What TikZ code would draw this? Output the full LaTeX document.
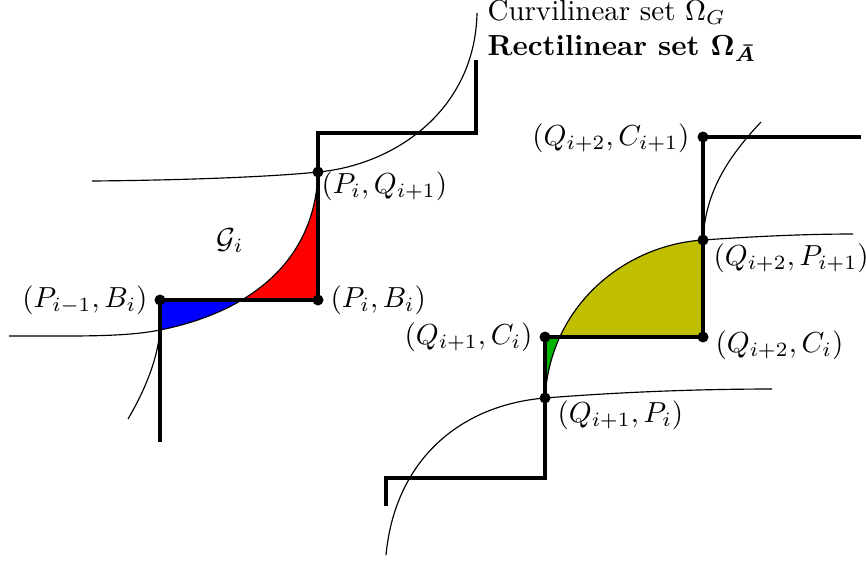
\documentclass[tikz,border=0pt]{standalone}
\usepackage{amsmath,amssymb}
\usepackage{tikz}
\usepackage{xcolor}
\definecolor{stepgreen}{RGB}{0,179,0}
\definecolor{stepolive}{RGB}{191,191,0}

\begin{document}
\begin{tikzpicture}[
    x=0.345pt, y=-0.345pt,
    rect/.style={line width=1.3pt, line join=miter},
    curve/.style={thin},
    lbl/.style={inner sep=0pt}
  ]
    \useasboundingbox (0,0) rectangle (866,565);

    % Left step
    \coordinate (l0) at (160,442);
    \coordinate (a1) at (160,300);
    \coordinate (a2) at (318,300);
    \coordinate (a3) at (318,172);
    \coordinate (l4) at (318,133);
    \coordinate (l5) at (476,133);
    \coordinate (l6) at (476,60);

    % Right step
    \coordinate (r0) at (386,506);
    \coordinate (r1) at (386,478);
    \coordinate (r2) at (545,478);
    \coordinate (b1) at (545,398);
    \coordinate (b2) at (545,337);
    \coordinate (b3) at (703,337);
    \coordinate (b4) at (703,240);
    \coordinate (b5) at (703,137);
    \coordinate (r6) at (861,137);

    % Curve ends
    \coordinate (cA0) at (9,336);
    \coordinate (cA1) at (160,330);
    \coordinate (cB0) at (92,181);
    \coordinate (cB1) at (477,13);
    \coordinate (cC0) at (128,419);
    \coordinate (cD0) at (386,555);
    \coordinate (cD1) at (772,389);
    \coordinate (cE1) at (853,234);
    \coordinate (cF1) at (761,122);

    % Fills
    \begin{scope}
      \clip (160,300) rectangle (318,345);
      \fill[blue] (cA1) .. controls (245,313) and (315,265) .. (a3)
        -- (160,172) -- cycle;
    \end{scope}
    \begin{scope}
      \clip (160,172) rectangle (318,300);
      \fill[red] (cA1) .. controls (245,313) and (315,265) .. (a3)
        -- (318,345) -- (160,345) -- cycle;
    \end{scope}
    \begin{scope}
      \clip (545,337) rectangle (703,398);
      \fill[stepgreen] (b1) .. controls (550,305) and (625,245) .. (b4)
        -- (545,240) -- cycle;
    \end{scope}
    \begin{scope}
      \clip (545,240) rectangle (703,337);
      \fill[stepolive] (b1) .. controls (550,305) and (625,245) .. (b4)
        -- (703,398) -- cycle;
    \end{scope}

    % Curvilinear set
    \draw[curve] (cC0) .. controls (148,385) and (158,355) .. (cA1);
    \draw[curve] (cA0) .. controls (80,336) and (125,337) .. (cA1)
      .. controls (245,313) and (315,265) .. (a3);
    \draw[curve] (cB0) .. controls (200,180) and (280,176) .. (a3)
      .. controls (395,165) and (475,110) .. (cB1);
    \draw[curve] (cD0) .. controls (395,460) and (460,405) .. (b1)
      .. controls (620,392) and (700,389) .. (cD1);
    \draw[curve] (b1) .. controls (550,305) and (625,245) .. (b4)
      .. controls (760,236) and (810,234) .. (cE1);
    \draw[curve] (b4) .. controls (705,195) and (725,160) .. (cF1);

    % Rectilinear set
    \draw[rect] (l0) -- (a1) -- (a2) -- (a3) -- (l4) -- (l5) -- (l6);
    \draw[rect] (r0) -- (r1) -- (r2) -- (b1) -- (b2) -- (b3) -- (b4)
      -- (b5) -- (r6);

    \foreach \p in {a1,a2,a3,b1,b2,b3,b4,b5}
      \fill (\p) circle (1.9pt);

    % Labels
    \node[lbl, anchor=base west] (la3) at (321,193) {$(P_i,Q_{i+1})$};
    \node[lbl, anchor=base west] (la2) at (330,307) {$(P_i,B_i)$};
    \node[lbl, anchor=base east] (la1) at (148,307) {$(P_{i-1},B_i)$};
    \node[lbl, anchor=base west] (lg)  at (216,248) {$\mathcal{G}_i$};
    \node[lbl, anchor=base east] (lb5) at (690,145) {$(Q_{i+2},C_{i+1})$};
    \node[lbl, anchor=base west] (lb4) at (713,265) {$(Q_{i+2},P_{i+1})$};
    \node[lbl, anchor=base east] (lb2) at (533,344) {$(Q_{i+1},C_i)$};
    \node[lbl, anchor=base west] (lb3) at (715,352) {$(Q_{i+2},C_i)$};
    \node[lbl, anchor=base west] (lb1) at (557,422) {$(Q_{i+1},P_i)$};
    \node[lbl, anchor=base west] (lcur) at (487,20)
      {Curvilinear set $\Omega_G$};
    \node[lbl, anchor=base west, font=\bfseries\boldmath] (lrec) at (487,55)
      {Rectilinear set $\Omega_{\bar{A}}$};
  \end{tikzpicture}
\end{document}
